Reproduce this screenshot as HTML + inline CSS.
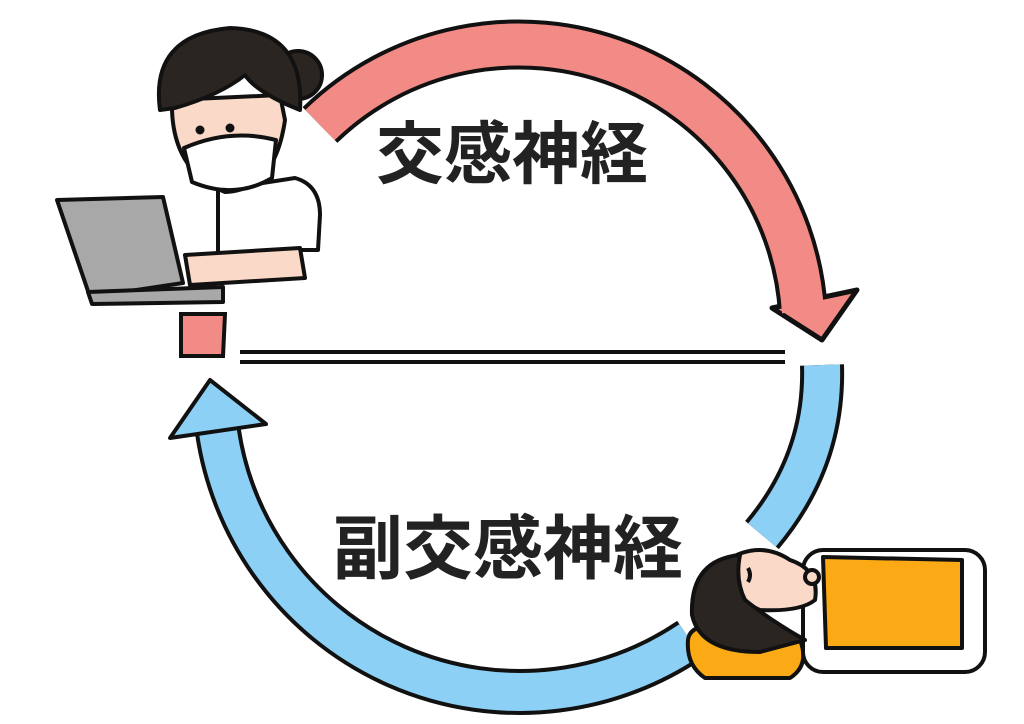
<!DOCTYPE html>
<html><head><meta charset="utf-8"><style>
html,body{margin:0;padding:0;background:#fff;}
svg{display:block;}
</style></head><body>
<svg width="1024" height="724" viewBox="0 0 1024 724" xmlns="http://www.w3.org/2000/svg">
<rect width="1024" height="724" fill="#fff"/>
<!-- red arc -->
<path d="M320,125 A285,285 0 0 1 803,312" fill="none" stroke="#111" stroke-width="50"/>
<polygon points="772,308 857,290 822,340" fill="#f28b86" stroke="#111" stroke-width="5" stroke-linejoin="round"/>
<path d="M320,125 A285,285 0 0 1 803,312" fill="none" stroke="#f28b86" stroke-width="42"/>
<!-- small red segment -->
<path d="M181,314 L225,314 L223,356 L181,356 Z" fill="#f28b86" stroke="#111" stroke-width="4"/>
<!-- double line -->
<line x1="240" y1="352" x2="785" y2="352" stroke="#111" stroke-width="4"/>
<line x1="240" y1="362" x2="785" y2="362" stroke="#111" stroke-width="4"/>
<!-- blue right segment -->
<path d="M822,365 Q825,460 762,535" fill="none" stroke="#111" stroke-width="44"/>
<path d="M822,365 Q825,460 762,535" fill="none" stroke="#8dd0f6" stroke-width="36"/>
<!-- blue bottom arc -->
<path d="M690,640 A305,305 0 0 1 218,432" fill="none" stroke="#111" stroke-width="46"/>
<path d="M690,640 A305,305 0 0 1 218,432" fill="none" stroke="#8dd0f6" stroke-width="38"/>
<polygon points="170,438 266,424 210,380" fill="#8dd0f6" stroke="#111" stroke-width="4" stroke-linejoin="round"/>
<!-- texts -->
<text x="512" y="178" text-anchor="middle" font-family="'Liberation Sans','Noto Sans CJK JP',sans-serif" font-weight="bold" font-size="68" fill="#222">交感神経</text>
<text x="508" y="573" text-anchor="middle" font-family="'Liberation Sans','Noto Sans CJK JP',sans-serif" font-weight="bold" font-size="70" fill="#222">副交感神経</text>
<!-- woman -->
<g stroke="#111" stroke-width="4" stroke-linejoin="round">
<path d="M218,190 L295,178 Q320,185 320,215 L318,250 L290,250 L292,262 L218,262 Z" fill="#fff"/>
<path d="M185,255 L300,248 L305,278 L190,285 Z" fill="#fbd9c8"/>
<circle cx="298" cy="75" r="24" fill="#2b2522"/>
<path d="M172,100 Q170,170 225,192 Q275,190 285,120 L280,95 Z" fill="#fbd9c8"/>
<path d="M160,110 Q150,35 230,28 Q305,30 300,110 L288,105 Q255,90 245,75 Q220,95 175,108 Z" fill="#2b2522"/>
<path d="M184,148 Q230,128 276,140 L272,178 Q235,200 192,182 Z" fill="#fff"/>
<circle cx="200" cy="130" r="2.5" fill="#111"/>
<circle cx="230" cy="128" r="2.5" fill="#111"/>
<polygon points="57,200 163,197 183,283 90,297" fill="#a8a8a8"/>
<polygon points="88,292 223,287 223,302 92,304" fill="#a8a8a8"/>
</g>
<!-- sleeping person -->
<g stroke="#111" stroke-width="4" stroke-linejoin="round">
<path d="M688,640 Q690,620 735,628 L800,640 Q810,665 790,678 L705,678 Q686,665 688,640 Z" fill="#fbaa15"/>
<rect x="803" y="550" width="182" height="122" rx="20" fill="#fff"/>
<path d="M823,557 L962,560 L962,648 L826,648 Z" fill="#fbaa15"/>
<path d="M727,560 Q760,540 790,560 Q820,570 815,600 Q800,612 760,610 Q735,600 727,560 Z" fill="#fbd9c8"/>
<path d="M740,555 Q690,560 692,615 Q700,652 760,652 L805,640 Q770,620 745,600 Q735,580 740,555 Z" fill="#2b2522"/>
<circle cx="812" cy="577" r="7" fill="#fbd9c8"/>
<path d="M748,568 Q752,575 748,582" fill="none"/>
</g>
</svg>
</body></html>
